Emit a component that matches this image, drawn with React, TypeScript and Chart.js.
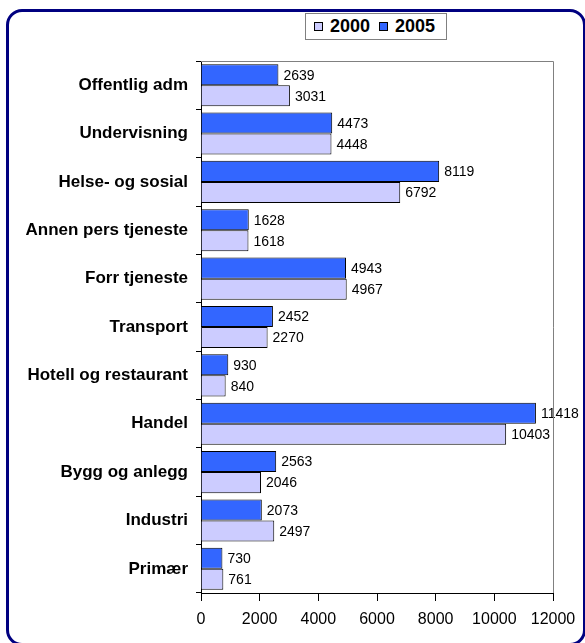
import React, { useEffect, useRef } from "react";
import { Chart, registerables } from "chart.js";

Chart.register(...registerables);

const categories = [
  "Offentlig adm",
  "Undervisning",
  "Helse- og sosial",
  "Annen pers tjeneste",
  "Forr tjeneste",
  "Transport",
  "Hotell og restaurant",
  "Handel",
  "Bygg og anlegg",
  "Industri",
  "Primær",
];
const values2005 = [2639, 4473, 8119, 1628, 4943, 2452, 930, 11418, 2563, 2073, 730];
const values2000 = [3031, 4448, 6792, 1618, 4967, 2270, 840, 10403, 2046, 2497, 761];
const seriesNames = ["2005", "2000"];
const xTicks = { min: 0, max: 12000, step: 2000 };

const BLUE = "#3366FF";
const LAVENDER = "#CCCCFF";
const FONT = "'Liberation Sans', Arial, sans-serif";

const labelPlugin = {
  id: "valueLabels",
  afterDatasetsDraw(chart: any) {
    const ctx = chart.ctx;
    ctx.save();
    ctx.font = `14px ${FONT}`;
    ctx.fillStyle = "#000";
    ctx.textBaseline = "middle";
    ctx.textAlign = "left";
    chart.data.datasets.forEach((ds: any, di: number) => {
      const meta = chart.getDatasetMeta(di);
      meta.data.forEach((el: any, i: number) => {
        ctx.fillText(String(ds.data[i]), el.x + 5, el.y + 1);
      });
    });
    ctx.restore();
  },
};

const framePlugin = {
  id: "plotFrame",
  afterDraw(chart: any) {
    const { ctx, chartArea } = chart;
    ctx.save();
    ctx.strokeStyle = "#808080";
    ctx.lineWidth = 1;
    ctx.beginPath();
    ctx.moveTo(chartArea.left, Math.round(chartArea.top) + 0.5);
    ctx.lineTo(Math.round(chartArea.right) + 0.5, Math.round(chartArea.top) + 0.5);
    ctx.lineTo(Math.round(chartArea.right) + 0.5, chartArea.bottom);
    ctx.stroke();
    ctx.restore();
  },
};

export default function App() {
  const ref = useRef<HTMLCanvasElement | null>(null);
  useEffect(() => {
    if (!ref.current) return;
    const chart = new Chart(ref.current, {
      type: "bar",
      data: {
        labels: categories,
        datasets: [
          {
            label: seriesNames[0],
            data: values2005,
            backgroundColor: BLUE,
            borderColor: "#000",
            borderWidth: 1,
            categoryPercentage: 0.87,
            barPercentage: 1,
          },
          {
            label: seriesNames[1],
            data: values2000,
            backgroundColor: LAVENDER,
            borderColor: "#000",
            borderWidth: 1,
            categoryPercentage: 0.87,
            barPercentage: 1,
          },
        ],
      },
      options: {
        indexAxis: "y",
        responsive: false,
        devicePixelRatio: 1,
        animation: false,
        layout: { padding: { top: 61, right: 32, bottom: 10, left: 0 } },
        plugins: { legend: { display: false }, tooltip: { enabled: false } },
        scales: {
          x: {
            min: xTicks.min,
            max: xTicks.max,
            ticks: {
              stepSize: xTicks.step,
              color: "#000",
              font: { family: FONT, size: 16 },
              padding: 9,
              maxRotation: 0,
              callback: (v: any) => String(v),
            },
            grid: { drawOnChartArea: false, drawTicks: true, tickLength: 8, color: "#000" },
            border: { color: "#000", width: 1 },
            afterFit: (s: any) => {
              s.height = 40;
            },
          },
          y: {
            type: "category",
            offset: true,
            ticks: {
              color: "#000",
              font: { family: FONT, size: 17, weight: "bold" },
              padding: 8,
            },
            grid: { offset: true, drawOnChartArea: false, drawTicks: true, tickLength: 5, color: "#000" },
            border: { color: "#000", width: 1 },
            afterFit: (s: any) => {
              s.width = 201;
            },
          },
        },
      },
      plugins: [labelPlugin, framePlugin],
    } as any);
    return () => chart.destroy();
  }, []);

  const sq = (c: string) => (
    <span
      style={{
        display: "inline-block",
        width: 9,
        height: 9,
        background: c,
        border: "1px solid #000",
        boxSizing: "border-box",
        marginRight: 7,
      }}
    />
  );

  return (
    <div
      style={{
        position: "fixed",
        left: 0,
        top: 0,
        width: 585,
        height: 643,
        overflow: "hidden",
        background: "#fff",
      }}
    >
      <div
        style={{
          position: "absolute",
          left: 6,
          top: 9,
          width: 580,
          height: 637,
          border: "3px solid #000080",
          borderRadius: 16,
          boxSizing: "border-box",
        }}
      />
      <canvas ref={ref} width={585} height={643} style={{ position: "absolute", left: 0, top: 0 }} />
      <div
        style={{
          position: "absolute",
          left: 305,
          top: 13,
          width: 142,
          height: 27,
          border: "1px solid #808080",
          boxSizing: "border-box",
          background: "#fff",
          display: "flex",
          alignItems: "center",
          paddingLeft: 8,
          fontFamily: FONT,
          fontWeight: "bold",
          fontSize: 18,
          color: "#000",
          whiteSpace: "nowrap",
        }}
      >
        {sq(LAVENDER)}
        <span style={{ marginRight: 9 }}>{seriesNames[1]}</span>
        {sq(BLUE)}
        <span>{seriesNames[0]}</span>
      </div>
    </div>
  );
}
